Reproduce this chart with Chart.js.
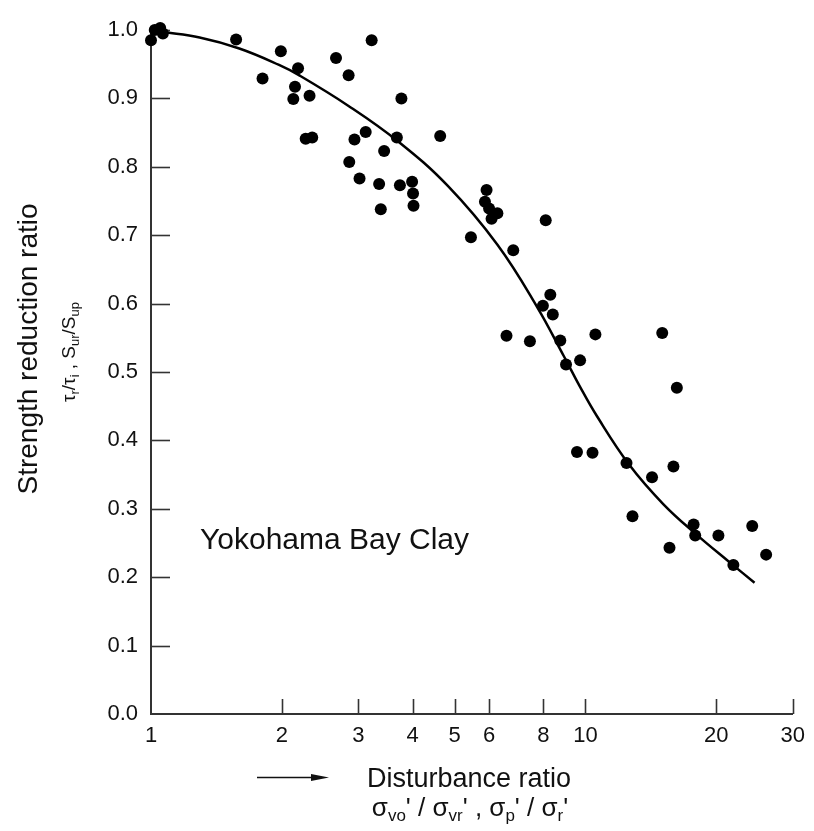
<!DOCTYPE html>
<html>
<head>
<meta charset="utf-8">
<script src="https://cdn.jsdelivr.net/npm/chart.js@4.4.1/dist/chart.umd.min.js"></script>
<style>
  html, body { margin: 0; padding: 0; background: #fff; }
  #wrap { width: 814px; height: 831px; }
</style>
</head>
<body>
<div id="wrap"><canvas id="c" width="814" height="831"></canvas></div>
<script>
// ---------- DATA ----------
const pointX = [
  1.0, 1.04, 1.02, 1.065, 1.0, 1.05,
  1.57, 1.99, 1.806, 2.18, 2.145, 2.126, 2.317, 2.27, 2.35, 2.666, 2.85, 3.22,
  3.77, 3.12, 2.94, 3.68, 4.63, 3.44, 2.86, 3.02, 3.35, 3.74, 3.99, 4.01, 4.02, 3.38,
  5.92, 5.87, 6.0, 6.27, 6.08, 5.45, 6.82, 8.10, 8.30, 7.98, 8.41, 6.58, 7.45, 8.75,
  10.54, 9.02, 9.72, 15.02, 9.56, 10.38, 12.43, 14.23, 16.23, 15.94, 12.83, 15.61,
  17.74, 17.89, 20.23, 24.2, 26.05, 21.9
];
const pointY = [
  1.013, 1.02, 1.0, 0.995, 0.985, 1.003,
  0.986, 0.969, 0.929, 0.944, 0.917, 0.899, 0.904, 0.841, 0.843, 0.959, 0.934, 0.985,
  0.900, 0.851, 0.840, 0.843, 0.845, 0.823, 0.807, 0.783, 0.775, 0.773, 0.778, 0.761, 0.743, 0.738,
  0.766, 0.749, 0.739, 0.732, 0.724, 0.697, 0.678, 0.722, 0.613, 0.597, 0.584, 0.553, 0.545, 0.546,
  0.555, 0.511, 0.517, 0.557, 0.383, 0.382, 0.367, 0.346, 0.477, 0.362, 0.289, 0.243,
  0.277, 0.261, 0.261, 0.275, 0.233, 0.218
];
const curveX = [1.065, 1.294, 1.597, 1.971, 2.19, 2.849, 3.706, 4.822, 6.272, 7.741, 8.92, 9.704, 10.613, 12.625, 15.1, 17.96, 21.36, 24.5];
const curveY = [0.997, 0.989, 0.973, 0.949, 0.934, 0.889, 0.837, 0.772, 0.686, 0.595, 0.523, 0.479, 0.436, 0.364, 0.307, 0.263, 0.223, 0.192];

const xTickValues = [1, 2, 3, 4, 5, 6, 8, 10, 20, 30];
const yTickValues = [0, 0.1, 0.2, 0.3, 0.4, 0.5, 0.6, 0.7, 0.8, 0.9, 1.0];

const yTitle = 'Strength reduction ratio';
const ySubtitle = [['τ',0],['r',1],['/',0],['τ',0],['i',1],[' , ',0],['S',0],['ur',1],['/',0],['S',0],['up',1]];
const xTitle = 'Disturbance ratio';
const xSubtitle = [['σ',0],['vo',1],["' / ",0],['σ',0],['vr',1],["' , ",0],['σ',0],['p',1],["' / ",0],['σ',0],['r',1],["'",0]];
const annotation = 'Yokohama Bay Clay';

// ---------- STYLE ----------
const FONT = '"Liberation Sans", Arial, Helvetica, sans-serif';
const INK = '#111';
const AXIS = '#333';

function drawRich(ctx, parts, x, y, mainSize, subSize, subShift) {
  let total = 0;
  const widths = parts.map(p => {
    ctx.font = (p[1] ? subSize : mainSize) + 'px ' + FONT;
    const w = ctx.measureText(p[0]).width;
    total += w;
    return w;
  });
  let cx = x - total / 2;
  parts.forEach((p, i) => {
    ctx.font = (p[1] ? subSize : mainSize) + 'px ' + FONT;
    ctx.fillText(p[0], cx, y + (p[1] ? subShift : 0));
    cx += widths[i];
  });
}

const decorPlugin = {
  id: 'decor',
  beforeDatasetsDraw(chart) {
    const ctx = chart.ctx, a = chart.chartArea;
    const xs = chart.scales.x, ys = chart.scales.y;
    ctx.save();
    ctx.strokeStyle = AXIS;
    ctx.lineWidth = 1.6;
    yTickValues.forEach(v => {
      if (v === 0) return;
      const p = Math.round(ys.getPixelForValue(v)) + 0.5;
      ctx.beginPath(); ctx.moveTo(a.left, p); ctx.lineTo(a.left + 19, p); ctx.stroke();
    });
    xTickValues.forEach(v => {
      if (v === 1) return;
      const p = Math.round(xs.getPixelForValue(v)) + 0.5;
      ctx.beginPath(); ctx.moveTo(p, a.bottom); ctx.lineTo(p, a.bottom - 15); ctx.stroke();
    });
    ctx.restore();
  },
  afterDraw(chart) {
    const ctx = chart.ctx;
    ctx.save();
    ctx.fillStyle = INK;
    ctx.textBaseline = 'alphabetic';
    ctx.textAlign = 'left';
    // y title
    ctx.save();
    ctx.translate(37, 349);
    ctx.rotate(-Math.PI / 2);
    ctx.font = '28px ' + FONT;
    ctx.textAlign = 'center';
    ctx.fillText(yTitle, 0, 0);
    ctx.textAlign = 'left';
    ctx.restore();
    // y subtitle
    ctx.save();
    ctx.translate(75, 352);
    ctx.rotate(-Math.PI / 2);
    drawRich(ctx, ySubtitle, 0, 0, 19, 13, 4);
    ctx.restore();
    // x title
    ctx.font = '27px ' + FONT;
    ctx.fillText(xTitle, 367, 787);
    // x subtitle
    drawRich(ctx, xSubtitle, 470, 816, 26, 17, 5);
    // arrow
    ctx.strokeStyle = INK;
    ctx.lineWidth = 1.5;
    ctx.beginPath(); ctx.moveTo(257, 777.5); ctx.lineTo(316, 777.5); ctx.stroke();
    ctx.beginPath(); ctx.moveTo(329, 777.5); ctx.lineTo(311, 774); ctx.lineTo(311, 781); ctx.closePath(); ctx.fill();
    // annotation
    ctx.font = '30px ' + FONT;
    ctx.fillText(annotation, 200, 549);
    ctx.restore();
  }
};

new Chart(document.getElementById('c'), {
  type: 'scatter',
  data: {
    datasets: [
      {
        label: 'Data',
        data: pointX.map((x, i) => ({ x: x, y: pointY[i] })),
        pointRadius: 6,
        pointHoverRadius: 6,
        pointBackgroundColor: '#000',
        pointBorderWidth: 0,
        borderWidth: 0,
        clip: false,
        order: 1
      },
      {
        label: 'Fit',
        data: curveX.map((x, i) => ({ x: x, y: curveY[i] })),
        showLine: true,
        pointRadius: 0,
        borderColor: '#000',
        borderWidth: 2.5,
        tension: 0.4,
        clip: false,
        order: 2
      }
    ]
  },
  options: {
    responsive: false,
    animation: false,
    devicePixelRatio: 1,
    layout: { padding: { top: 30, right: 17, left: 0, bottom: 0 } },
    plugins: { legend: { display: false }, tooltip: { enabled: false }, title: { display: false } },
    scales: {
      x: {
        type: 'logarithmic',
        min: 1,
        max: 30,
        afterBuildTicks: s => { s.ticks = xTickValues.map(v => ({ value: v })); },
        afterFit: s => { s.height = 117; },
        grid: { display: false, drawTicks: false },
        border: { display: true, color: AXIS, width: 2 },
        ticks: {
          autoSkip: false,
          maxRotation: 0,
          padding: 9,
          color: INK,
          font: { family: FONT, size: 22 },
          callback: v => String(v)
        }
      },
      y: {
        type: 'linear',
        min: 0,
        max: 1.0,
        afterBuildTicks: s => { s.ticks = yTickValues.map(v => ({ value: v })); },
        afterFit: s => { s.width = 151; },
        grid: { display: false, drawTicks: false },
        border: { display: true, color: AXIS, width: 2 },
        ticks: {
          padding: 13,
          color: INK,
          font: { family: FONT, size: 22 },
          callback: v => Number(v).toFixed(1)
        }
      }
    }
  },
  plugins: [decorPlugin]
});
</script>
</body>
</html>
